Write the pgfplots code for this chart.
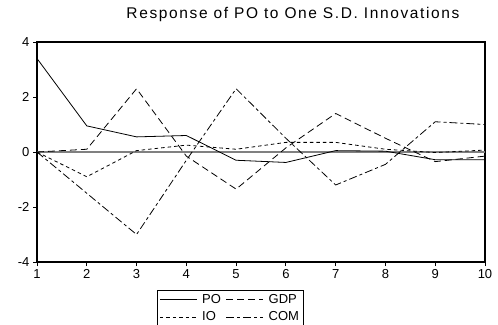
\documentclass[border=0pt]{standalone}
\usepackage{fontspec}
\setmainfont{Liberation Sans}
\newfontfamily\titlefont[LetterSpace=10.5]{Liberation Sans}
\usepackage{pgfplots}
\pgfplotsset{compat=1.18}
\begin{document}
\begin{tikzpicture}[x=1pt,y=1pt]
\useasboundingbox (-37,-62) rectangle (461,262);
\begin{axis}[
  at={(0,0)}, anchor=south west,
  scale only axis, width=448pt, height=220pt,
  xmin=1, xmax=10, ymin=-4, ymax=4,
  xtick={1,...,10}, ytick={-4,-2,0,2,4},
  tick align=outside, tick pos=left,
  major tick length=4pt,
  axis line style={line width=1.5pt},
  every tick/.style={black, line width=1pt},
  tick label style={font=\fontsize{13}{13}\selectfont},
  /pgf/number format/assume math mode=true,
  title={\titlefont Response of PO to One S.D. Innovations},
  title style={at={(0.5,1)}, anchor=base, yshift=18pt, xshift=32pt, font=\fontsize{15.5}{16}\selectfont},
  legend columns=2,
  legend style={at={(0.268,-0.127)}, anchor=north west, draw=black, line width=0.6pt,
    font=\fontsize{13}{13}\selectfont, cells={anchor=west},
    inner xsep=2pt, inner ysep=2pt, row sep=3pt,
    /tikz/every odd column/.append style={column sep=3pt},
    /tikz/every even column/.append style={column sep=3pt}},
  legend image code/.code={\draw[#1] (0pt,0pt) -- (37pt,0pt);},
]
\addplot[gray, line width=1.3pt, forget plot] coordinates {(1,0) (10,0)};
\addplot[black, line width=0.8pt] coordinates {
(1,3.4) (2,0.95) (3,0.55) (4,0.6) (5,-0.3) (6,-0.38) (7,0.05) (8,0.03) (9,-0.28) (10,-0.28)};
\addlegendentry{PO}
\addplot[black, line width=0.8pt, dash pattern=on 7pt off 4pt] coordinates {
(1,0) (2,0.1) (3,2.3) (4,-0.15) (5,-1.35) (6,0.15) (7,1.4) (8,0.5) (9,-0.35) (10,-0.15)};
\addlegendentry{GDP}
\addplot[black, line width=0.8pt, dash pattern=on 3.5pt off 3pt] coordinates {
(1,0) (2,-0.9) (3,0.05) (4,0.25) (5,0.1) (6,0.35) (7,0.35) (8,0.1) (9,-0.02) (10,0.07)};
\addlegendentry{IO}
\addplot[black, line width=0.8pt, dash pattern=on 8pt off 3pt on 3pt off 3pt] coordinates {
(1,0) (2,-1.5) (3,-3.0) (4,-0.3) (5,2.3) (6,0.5) (7,-1.2) (8,-0.45) (9,1.1) (10,1.0)};
\addlegendentry{COM}
\end{axis}
\end{tikzpicture}
\end{document}
